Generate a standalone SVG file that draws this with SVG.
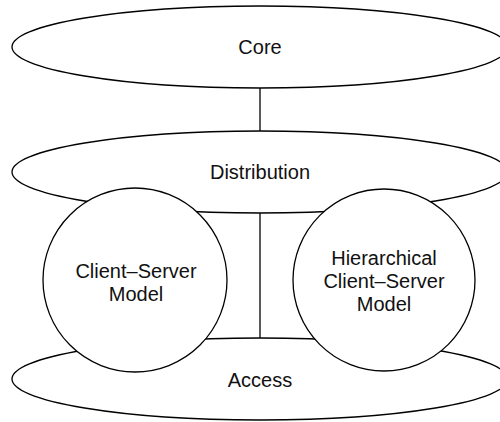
<svg xmlns="http://www.w3.org/2000/svg" width="500" height="422" viewBox="0 0 500 422">
<style>
.shape{fill:#fff;stroke:#000;stroke-width:1.3}
.conn{stroke:#000;stroke-width:1.3;fill:none}
text{font-family:"Liberation Sans",Arial,Helvetica,sans-serif;font-size:20px;fill:#111;text-anchor:middle}
</style>
<rect width="500" height="422" fill="#fff"/>
<g id="connectors">
<line class="conn" x1="260" y1="88" x2="260" y2="131"/>
</g>
<g id="core">
<ellipse class="shape" cx="260" cy="47" rx="248" ry="41"/>
<text x="260" y="54">Core</text>
</g>
<g id="distribution">
<ellipse class="shape" cx="260" cy="172" rx="248" ry="41"/>
<text x="260" y="179">Distribution</text>
</g>
<g id="access">
<ellipse class="shape" cx="260" cy="379" rx="248" ry="41"/>
<text x="260" y="387">Access</text>
</g>
<g id="connectors2">
<line class="conn" x1="260" y1="213" x2="260" y2="338"/>
</g>
<g id="client-server">
<circle class="shape" cx="135" cy="280" r="92"/>
<text x="136" y="278">Client–Server</text>
<text x="136" y="301">Model</text>
</g>
<g id="hierarchical">
<circle class="shape" cx="384" cy="280" r="91"/>
<text x="384" y="265">Hierarchical</text>
<text x="384" y="288">Client–Server</text>
<text x="384" y="311">Model</text>
</g>
</svg>
